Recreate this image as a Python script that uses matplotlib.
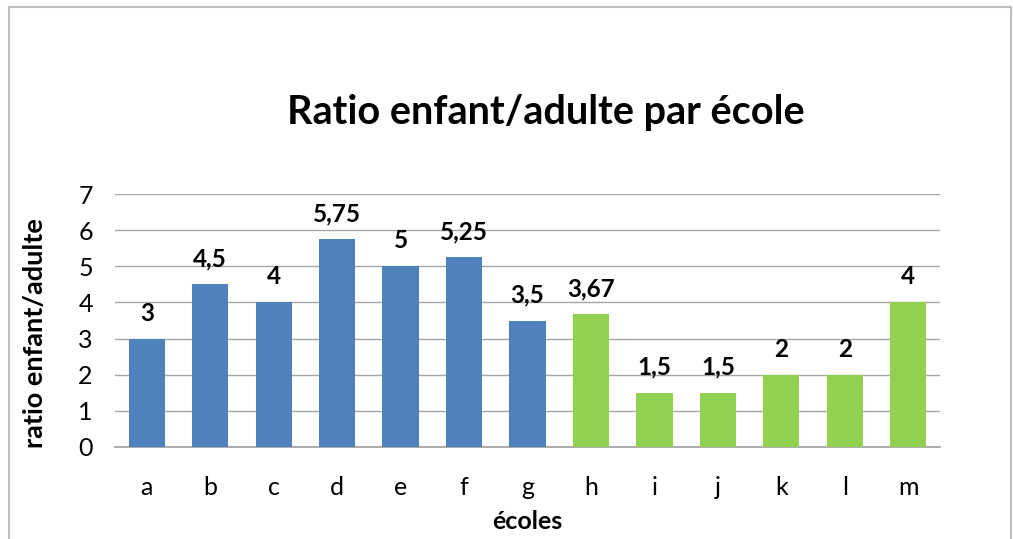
import matplotlib.pyplot as plt
from matplotlib.lines import Line2D

# --- DATA ---
ecoles = ["a", "b", "c", "d", "e", "f", "g", "h", "i", "j", "k", "l", "m"]
ratios = [3, 4.5, 4, 5.75, 5, 5.25, 3.5, 3.67, 1.5, 1.5, 2, 2, 4]
groupe = ["bleu"] * 7 + ["vert"] * 6

COULEURS = {"bleu": "#4F81BD", "vert": "#92D050"}
FONT = ["Lato", "DejaVu Sans"]
plt.rcParams['font.family'] = FONT

fig = plt.figure(figsize=(10.13, 5.39), dpi=100)
ax = fig.add_axes([115 / 1013, 1 - 447 / 539, 825 / 1013, 253 / 539])

x = range(len(ecoles))
bars = ax.bar(x, ratios, width=0.57, color=[COULEURS[g] for g in groupe], zorder=3)

def fmt(v):
    s = f"{v:.2f}".rstrip("0").rstrip(".")
    return s.replace(".", ",")

for b, v in zip(bars, ratios):
    ax.annotate(fmt(v), (b.get_x() + b.get_width() / 2, v), xytext=(0, 13),
                textcoords="offset points", ha="center", va="baseline",
                fontsize=17.5, fontweight="bold", color="#000000")

ax.set_xlim(-0.5, len(ecoles) - 0.5)
ax.set_ylim(0, 7)
ax.set_yticks(range(8))
ax.set_xticks(list(x))
ax.set_xticklabels(ecoles)
ax.tick_params(axis="both", length=0, labelsize=18, colors="#000000")
ax.tick_params(axis="x", pad=21)
ax.tick_params(axis="y", pad=16)
ax.grid(axis="y", color="#A6A6A6", linewidth=1, zorder=0)
for s in ["top", "right", "left"]:
    ax.spines[s].set_visible(False)
ax.spines["bottom"].set_color("#A6A6A6")
ax.spines["bottom"].set_linewidth(1.3)

ax.set_ylabel("ratio enfant/adulte", fontsize=19.5, fontweight="bold")
ax.yaxis.set_label_coords(-0.082, 0.45)
ax.set_xlabel("écoles", fontsize=18, fontweight="bold", labelpad=8)

fig.text(546 / 1013, 1 - 112 / 539, "Ratio enfant/adulte par école", ha="center",
         va="center", fontsize=28.5, fontweight="bold")

# chart area border
fig.add_artist(Line2D([9 / 1013, 9 / 1013], [0, 1 - 7 / 539], color="#BFBFBF", lw=1.5))
fig.add_artist(Line2D([9 / 1013, 1011 / 1013], [1 - 7 / 539, 1 - 7 / 539], color="#BFBFBF", lw=1.5))
fig.add_artist(Line2D([1011 / 1013, 1011 / 1013], [0, 1 - 7 / 539], color="#BFBFBF", lw=1.5))

fig.savefig("out.png", dpi=100)
